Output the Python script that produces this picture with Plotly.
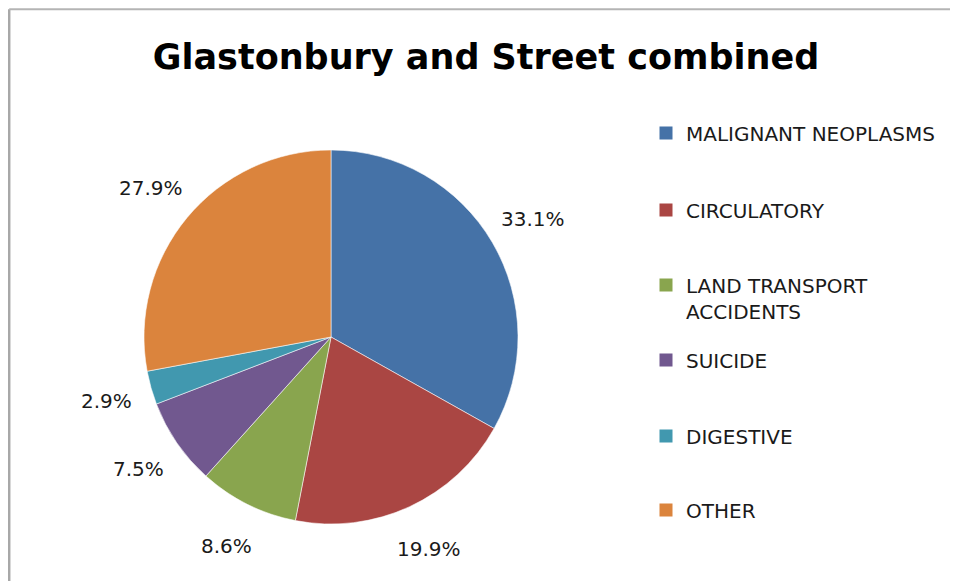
import math
import plotly.graph_objects as go

# ---- data ----
categories = ["MALIGNANT NEOPLASMS", "CIRCULATORY", "LAND TRANSPORT<br>ACCIDENTS",
              "SUICIDE", "DIGESTIVE", "OTHER"]
values = [33.1, 19.9, 8.6, 7.5, 2.9, 27.9]
colors = ["#4572A7", "#AA4643", "#89A54E", "#71588F", "#4198AF", "#DB843D"]
title_text = "Glastonbury and Street combined"

# ---- layout geometry (page has an 8px body margin) ----
W, H = 958, 581
OFF = 8
CX, CY, R = 331 - OFF, 337 - OFF, 187
FONT = "DejaVu Sans"

fig = go.Figure()
fig.add_trace(go.Pie(
    labels=categories, values=values, sort=False, direction="clockwise", rotation=0,
    marker=dict(colors=colors, line=dict(color="rgba(255,255,255,0.55)", width=1)),
    textinfo="none", hoverinfo="label+percent", showlegend=False,
    domain=dict(x=[(CX - R) / W, (CX + R) / W], y=[1 - (CY + R) / H, 1 - (CY - R) / H]),
))

# percentage labels placed outside each slice, from the slice's mid-angle
total = sum(values)
cum = 0.0
annotations = []
for v in values:
    mid = (cum + v / 2) / total * 2 * math.pi
    cum += v
    d = R * 1.25
    px = CX + d * math.sin(mid)
    py = CY - d * math.cos(mid)
    annotations.append(dict(
        x=px / W, y=1 - py / H, xref="paper", yref="paper",
        text=f"{v / total * 100:.1f}%", showarrow=False,
        xanchor="center", yanchor="middle",
        font=dict(family=FONT, size=20, color="#1a1a1a"),
    ))

# legend: one entry per category, evenly spaced as in the original
legend_centers = [133, 210, 298, 360, 436, 510]
layout_legends = {}
for i, (cat, col) in enumerate(zip(categories, colors)):
    key = "legend" if i == 0 else f"legend{i + 1}"
    fig.add_trace(go.Scatter(
        x=[None], y=[None], mode="markers", name=cat,
        marker=dict(symbol="square", size=13, color=col),
        legend=key, showlegend=True, hoverinfo="skip",
    ))
    layout_legends[key] = dict(
        x=(646 - OFF) / W, y=1 - (legend_centers[i] - OFF) / H,
        xanchor="left", yanchor="middle",
        bgcolor="rgba(0,0,0,0)", borderwidth=0, valign="top",
        font=dict(family=FONT, size=20, color="#1a1a1a"),
    )

EDGE = 1.2  # chart-area border, just inside the figure's top-left corner
fig.update_layout(
    width=W, height=H, autosize=False,
    margin=dict(l=0, r=0, t=0, b=0),
    paper_bgcolor="white", plot_bgcolor="white",
    title=dict(text=f"<b>{title_text}</b>", x=(486 - OFF) / W, y=1 - (57 - OFF) / H,
               xref="paper", yref="paper", xanchor="center", yanchor="middle",
               font=dict(family=FONT, size=35, color="#000000")),
    xaxis=dict(visible=False), yaxis=dict(visible=False),
    annotations=annotations,
    shapes=[dict(type="line", xref="paper", yref="paper",
                 x0=EDGE / W, x1=EDGE / W, y0=0, y1=1 - EDGE / H,
                 line=dict(color="#a8a8a8", width=2.5)),
            dict(type="line", xref="paper", yref="paper",
                 x0=EDGE / W, x1=1.0, y0=1 - EDGE / H, y1=1 - EDGE / H,
                 line=dict(color="#b4b4b4", width=2))],
    **layout_legends,
)

fig.write_html("out.html")
